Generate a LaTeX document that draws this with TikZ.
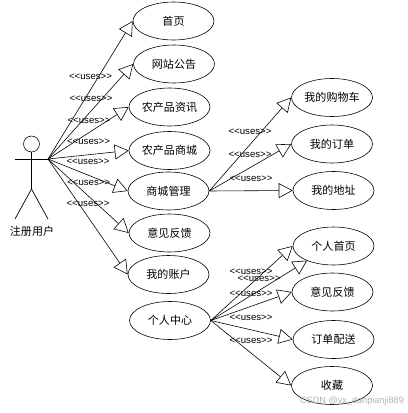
\documentclass[tikz,border=0pt]{standalone}
\usepackage{fontspec}
\setmainfont{Liberation Sans}
\newfontfamily\cjk{Noto Sans CJK SC}
\usetikzlibrary{arrows.meta,shapes.geometric}
\tikzset{
  usecase/.style={draw,ellipse,line width=0.5pt,minimum width=2.430cm,minimum height=1.140cm,inner sep=0pt,font=\cjk\fontsize{9.4pt}{11pt}\selectfont},
  usesarrow/.style={line width=0.5pt,-{Triangle[open,length=0.420cm,width=0.450cm]}},
  useslabel/.style={font=\fontsize{8.2pt}{10pt}\selectfont,inner sep=0pt},
  stickline/.style={line width=0.6pt},
}

\begin{document}
\begin{tikzpicture}
\useasboundingbox (0,0) rectangle (12.210,-12.390);
% actor
\node[draw,circle,line width=0.5pt,minimum size=0.480cm,inner sep=0pt] (head) at (0.945,-4.320) {};
\coordinate (hip) at (0.945,-5.670);
\coordinate (armleft) at (0.450,-4.770);
\coordinate (hub) at (1.440,-4.770);
\coordinate (footleft) at (0.450,-6.570);
\coordinate (footright) at (1.440,-6.570);
\draw[stickline] (head.south) -- (hip);
\draw[stickline] (armleft) -- (hub);
\draw[stickline] (hip) -- (footleft);
\draw[stickline] (hip) -- (footright);
\node[font=\cjk\fontsize{9.4pt}{11pt}\selectfont,inner sep=0pt] (user) at (0.960,-6.930) {注册用户};
% left column
\node[usecase] (shouye) at (5.205,-0.630) {首页};
\node[usecase] (gonggao) at (5.220,-1.920) {网站公告};
\node[usecase] (zixun) at (5.085,-3.210) {农产品资讯};
\node[usecase] (shangcheng) at (5.085,-4.515) {农产品商城};
\node[usecase] (guanli) at (5.055,-5.730) {商城管理};
\node[usecase] (fankui) at (5.085,-6.990) {意见反馈};
\node[usecase] (zhanghu) at (5.055,-8.235) {我的账户};
\node[usecase] (zhongxin) at (5.100,-9.615) {个人中心};
% right column
\node[usecase] (gouwu) at (9.960,-2.925) {我的购物车};
\node[usecase] (dingdan) at (9.960,-4.320) {我的订单};
\node[usecase] (dizhi) at (10.005,-5.715) {我的地址};
\node[usecase] (geren) at (10.005,-7.380) {个人首页};
\node[usecase] (yijian) at (9.975,-8.760) {意见反馈};
\node[usecase] (peisong) at (10.005,-10.185) {订单配送};
\node[usecase] (shoucang) at (9.960,-11.565) {收藏};
% connectors
\draw[usesarrow] (hub) -- (shouye.west);
\draw[usesarrow] (hub) -- (gonggao.west);
\draw[usesarrow] (hub) -- (zixun.west);
\draw[usesarrow] (hub) -- (shangcheng.west);
\draw[usesarrow] (hub) -- (guanli.west);
\draw[usesarrow] (hub) -- (fankui.west);
\draw[usesarrow] (hub) -- (zhanghu.west);
\draw[usesarrow] (guanli.east) -- (gouwu.west);
\draw[usesarrow] (guanli.east) -- (dingdan.west);
\draw[usesarrow] (guanli.east) -- (dizhi.west);
\draw[usesarrow] (zhongxin.east) -- (geren.west);
\draw[usesarrow] (zhongxin.east) -- (geren.209);
\draw[usesarrow] (zhongxin.east) -- (yijian.west);
\draw[usesarrow] (zhongxin.east) -- (peisong.west);
\draw[usesarrow] (zhongxin.east) -- (shoucang.west);
% labels
\node[useslabel] (uses1) at (2.715,-2.295) {<{}<uses>{}>};
\node[useslabel] (uses2) at (2.730,-2.955) {<{}<uses>{}>};
\node[useslabel] (uses3) at (2.670,-3.615) {<{}<uses>{}>};
\node[useslabel] (uses4) at (2.655,-4.245) {<{}<uses>{}>};
\node[useslabel] (uses5) at (2.640,-4.845) {<{}<uses>{}>};
\node[useslabel] (uses6) at (2.660,-5.475) {<{}<uses>{}>};
\node[useslabel] (uses7) at (2.640,-6.105) {<{}<uses>{}>};
\node[useslabel] (uses8) at (7.500,-3.945) {<{}<uses>{}>};
\node[useslabel] (uses9) at (7.500,-4.635) {<{}<uses>{}>};
\node[useslabel] (uses10) at (7.530,-5.355) {<{}<uses>{}>};
\node[useslabel] (uses11) at (7.530,-8.145) {<{}<uses>{}>};
\node[useslabel] (uses12) at (7.770,-8.355) {<{}<uses>{}>};
\node[useslabel] (uses13) at (7.530,-8.805) {<{}<uses>{}>};
\node[useslabel] (uses14) at (7.530,-9.525) {<{}<uses>{}>};
\node[useslabel] (uses15) at (7.530,-10.215) {<{}<uses>{}>};
% watermark
\node[font=\fontsize{7.8pt}{10pt}\selectfont,text=black!30,inner sep=0pt] (mark) at (10.560,-12.030) {CSDN @vx\_danpianji889};
\end{tikzpicture}
\end{document}
